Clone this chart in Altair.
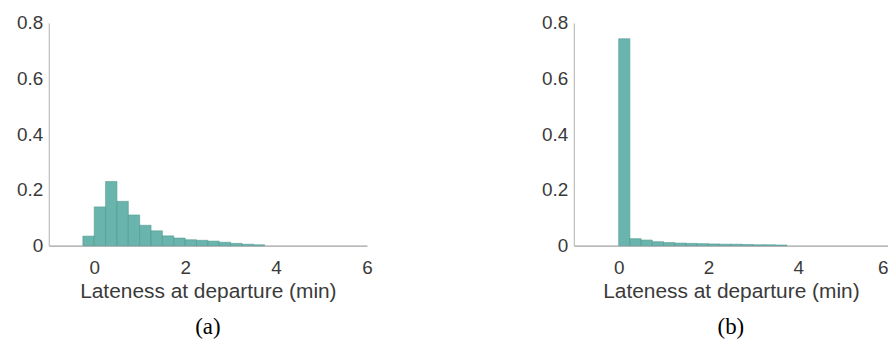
import altair as alt
import pandas as pd

bin_width = 0.25

bins_a = [-0.25, 0.0, 0.25, 0.5, 0.75, 1.0, 1.25, 1.5, 1.75, 2.0, 2.25, 2.5, 2.75,
          3.0, 3.25, 3.5]
vals_a = [0.034, 0.139, 0.230, 0.159, 0.110, 0.073, 0.053, 0.035, 0.027, 0.021, 0.019,
          0.016, 0.012, 0.008, 0.005, 0.003]

bins_b = [0.0, 0.25, 0.5, 0.75, 1.0, 1.25, 1.5, 1.75, 2.0, 2.25, 2.5, 2.75, 3.0,
          3.25, 3.5]
vals_b = [0.743, 0.025, 0.020, 0.014, 0.011, 0.009, 0.008, 0.007, 0.006, 0.005, 0.005,
          0.004, 0.003, 0.003, 0.002]

x_ticks = [0, 2, 4, 6]
y_ticks = [0, 0.2, 0.4, 0.6, 0.8]
x_title = "Lateness at departure (min)"
captions = ["(a)", "(b)"]

FILL = "#62b0a9"
STROKE = "#4a9690"
TXT = "#3a3a3a"


def panel(bins, vals, caption, width, flush):
    df = pd.DataFrame({"start": bins, "end": [b + bin_width for b in bins], "p": vals})
    return alt.Chart(df, title=alt.TitleParams(
        caption, orient="bottom", font="Liberation Serif", fontSize=23,
        fontWeight="normal", color="black", offset=15)).mark_bar(
        fill=FILL, stroke=STROKE, strokeWidth=0.6, opacity=0.95
    ).encode(
        x=alt.X("start:Q", scale=alt.Scale(domain=[-1, 6], nice=False),
                axis=alt.Axis(values=x_ticks, title=x_title, grid=False, ticks=False,
                              labelPadding=13, titlePadding=3, domainColor="#8a8a8a",
                              labelFlush=flush, format="d")),
        x2="end:Q",
        y=alt.Y("p:Q", scale=alt.Scale(domain=[0, 0.8], nice=False),
                axis=alt.Axis(values=y_ticks, title=None, grid=False, ticks=False,
                              labelPadding=6, domainColor="#b0b0b0",
                              labelExpr="datum.value == 0 ? '0' : format(datum.value, '.1f')")),
        y2=alt.datum(0),
    ).properties(width=width, height=224)


chart = alt.hconcat(
    panel(bins_a, vals_a, captions[0], 320, False),
    panel(bins_b, vals_b, captions[1], 316, True),
    spacing=169,
).properties(
    background="white",
    padding={"left": 8, "top": 5, "right": 0, "bottom": 5},
).configure_view(stroke=None).configure_axis(
    labelFont="Liberation Sans", labelFontSize=19, labelColor=TXT,
    titleFont="Liberation Sans", titleFontSize=21, titleColor=TXT, titleFontWeight="normal",
    domainWidth=1,
)

chart.save("out.html", embed_options={"renderer": "svg", "actions": False})
